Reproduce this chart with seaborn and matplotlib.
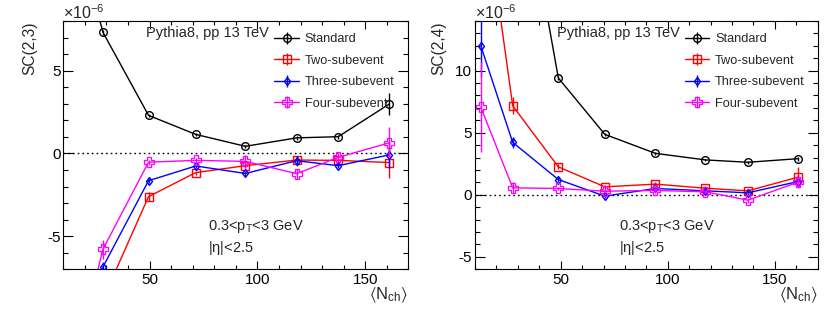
import numpy as np
import pandas as pd
import seaborn as sns
import matplotlib.pyplot as plt
from matplotlib.lines import Line2D
from matplotlib.ticker import MultipleLocator

# data (values in units of 1e-6)
methods = ["Standard", "Two-subevent", "Three-subevent", "Four-subevent"]

nch_23 = [12.7, 28.4, 49.5, 71.4, 94.4, 118.2, 137.5, 161.1]
sc23_standard = [15.0, 7.31, 2.30, 1.15, 0.43, 0.94, 1.01, 2.98]
sc23_two = [-30.0, -8.8, -2.61, -1.16, -0.74, -0.40, -0.42, -0.55]
sc23_three = [-16.0, -6.85, -1.65, -0.76, -1.21, -0.44, -0.74, -0.09]
sc23_four = [-14.0, -5.78, -0.53, -0.42, -0.48, -1.22, -0.24, 0.64]
err23_standard = [0.5, 0.15, 0.1, 0.1, 0.1, 0.1, 0.12, 0.67]
err23_two = [1.0, 0.4, 0.25, 0.12, 0.15, 0.2, 0.2, 0.95]
err23_three = [0.8, 0.3, 0.15, 0.12, 0.15, 0.3, 0.15, 0.8]
err23_four = [1.0, 0.57, 0.15, 0.15, 0.4, 0.3, 0.3, 0.93]

nch_24 = [12.7, 27.6, 48.9, 70.6, 94.2, 117.6, 137.4, 160.8]
sc24_standard = [60.0, 30.0, 9.41, 4.87, 3.34, 2.81, 2.62, 2.91]
sc24_two = [25.7, 7.17, 2.25, 0.64, 0.86, 0.53, 0.32, 1.42]
sc24_three = [12.0, 4.22, 1.23, -0.11, 0.51, 0.32, 0.16, 1.07]
sc24_four = [7.06, 0.56, 0.51, 0.29, 0.35, 0.24, -0.43, 1.02]
err24_standard = [2.0, 1.0, 0.15, 0.1, 0.1, 0.1, 0.1, 0.15]
err24_two = [2.0, 0.7, 0.2, 0.15, 0.15, 0.15, 0.15, 0.8]
err24_three = [2.5, 0.45, 0.2, 0.15, 0.15, 0.15, 0.15, 0.3]
err24_four = [3.6, 0.45, 0.15, 0.15, 0.2, 0.15, 0.2, 0.5]

colors = {"Standard": "black", "Two-subevent": "#ff0000",
          "Three-subevent": "#0000ff", "Four-subevent": "#ff00ff"}
markers = {"Standard": "o", "Two-subevent": "s",
           "Three-subevent": "d", "Four-subevent": "P"}
msizes = {"Standard": 5.5, "Two-subevent": 5.5,
          "Three-subevent": 4.5, "Four-subevent": 7}
mews = {"Standard": 1.0, "Two-subevent": 1.0,
        "Three-subevent": 1.0, "Four-subevent": 0.9}

sns.set_theme(style="ticks")
plt.rcParams["font.family"] = ["Liberation Sans", "DejaVu Sans"]
plt.rcParams["mathtext.default"] = "regular"
plt.rcParams["axes.linewidth"] = 0.8


def draw_panel(ax, nch, series, errors, ylabel, ylim, ymajor):
    handles = []
    for m in methods:
        df = pd.DataFrame({"nch": nch, "sc": series[m]})
        c = colors[m]
        sns.lineplot(data=df, x="nch", y="sc", ax=ax, color=c, lw=1.0,
                     marker=markers[m], ms=msizes[m], mfc="none", mec=c,
                     mew=mews[m], label=m, legend=False, zorder=3)
        ax.errorbar(nch, series[m], yerr=errors[m], fmt="none", ecolor=c,
                    elinewidth=1.0, capsize=0, zorder=3)
        h_line = Line2D([], [], color=c, lw=1.0, marker=markers[m],
                        ms=msizes[m], mfc="none", mec=c, mew=mews[m])
        h_bar = Line2D([], [], color=c, lw=0, marker="|", ms=8, mew=1.0)
        handles.append((h_line, h_bar))

    ax.axhline(0, color="black", ls=(0, (1.2, 2.2)), lw=1.0, zorder=1)
    ax.set_xlim(10, 170)
    ax.set_ylim(*ylim)
    ax.xaxis.set_major_locator(MultipleLocator(50))
    ax.xaxis.set_minor_locator(MultipleLocator(10))
    ax.yaxis.set_major_locator(MultipleLocator(ymajor))
    ax.yaxis.set_minor_locator(MultipleLocator(1))
    ax.tick_params(which="both", direction="in", top=True, right=True,
                   labelsize=11, width=0.8, colors="black")
    ax.tick_params(axis="y", which="major", length=7, pad=2)
    ax.tick_params(axis="y", which="minor", length=3.6)
    ax.tick_params(axis="x", which="major", length=5.5, pad=3)
    ax.tick_params(axis="x", which="minor", length=2.8)
    ax.set_yticklabels([f"{int(t)}" for t in ax.get_yticks()])
    for s in ax.spines.values():
        s.set_color("black")

    ax.set_xlabel(r"$\langle$N$_{ch}$$\rangle$", fontsize=12, loc="right")
    ax.xaxis.set_label_coords(1.0, -0.065)
    ax.set_ylabel(ylabel, fontsize=11.2, loc="top")

    ax.text(0.0, 1.01, r"×10$^{-6}$", transform=ax.transAxes,
            ha="left", va="baseline", fontsize=11.5)
    ax.text(0.24, 0.953, "Pythia8, pp 13 TeV", transform=ax.transAxes,
            ha="left", va="center", fontsize=10.5)
    ax.text(0.42, 0.172, r"0.3<p$_{T}$<3 GeV", transform=ax.transAxes,
            ha="left", va="center", fontsize=10.5)
    ax.text(0.42, 0.086, r"|$\eta$|<2.5", transform=ax.transAxes,
            ha="left", va="center", fontsize=10.5)

    ax.legend(handles, methods, loc="upper left",
              bbox_to_anchor=(0.612, 0.95), frameon=False, fontsize=9.2,
              handlelength=1.9, handletextpad=0.48, labelspacing=0.74,
              borderpad=0, borderaxespad=0)


fig = plt.figure(figsize=(8.3, 3.11), dpi=100)
ax1 = fig.add_axes([0.0763, 0.1341, 0.4157, 0.7984])
ax2 = fig.add_axes([0.5723, 0.1341, 0.4129, 0.7984])

draw_panel(ax1, nch_23,
           {"Standard": sc23_standard, "Two-subevent": sc23_two,
            "Three-subevent": sc23_three, "Four-subevent": sc23_four},
           {"Standard": err23_standard, "Two-subevent": err23_two,
            "Three-subevent": err23_three, "Four-subevent": err23_four},
           "SC(2,3)", (-7, 8), 5)
ax1.yaxis.set_label_coords(-0.077, 0.997)

draw_panel(ax2, nch_24,
           {"Standard": sc24_standard, "Two-subevent": sc24_two,
            "Three-subevent": sc24_three, "Four-subevent": sc24_four},
           {"Standard": err24_standard, "Two-subevent": err24_two,
            "Three-subevent": err24_three, "Four-subevent": err24_four},
           "SC(2,4)", (-6, 14), 5)
ax2.yaxis.set_label_coords(-0.083, 0.997)

fig.savefig("out.png", dpi=100)
